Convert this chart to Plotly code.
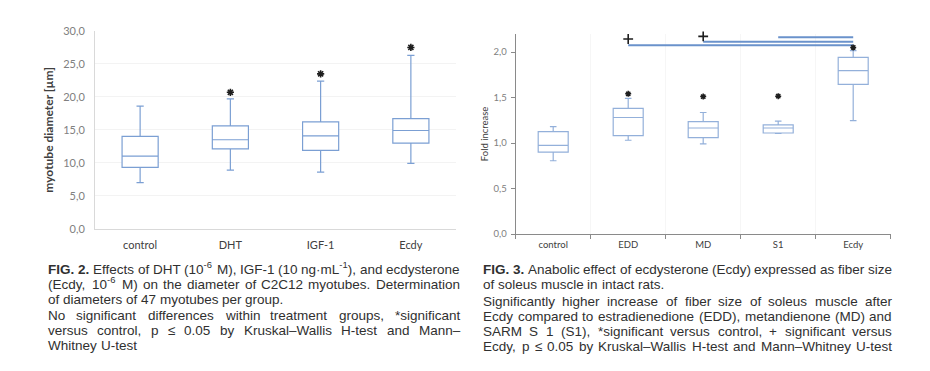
import re
import plotly.graph_objects as go

W, H = 930, 371

# ---------------- data: FIG. 2 (left) ----------------
fig2_groups = ["control", "DHT", "IGF-1", "Ecdy"]
fig2_low = [7.0, 8.9, 8.6, 9.9]
fig2_q1 = [9.3, 12.1, 11.9, 13.0]
fig2_median = [11.0, 13.5, 14.1, 14.9]
fig2_q3 = [14.0, 15.6, 16.2, 16.7]
fig2_high = [18.6, 19.7, 22.4, 26.3]
fig2_star_groups = ["DHT", "IGF-1", "Ecdy"]
fig2_star_y = [20.7, 23.5, 27.5]
fig2_yticks = [0, 5, 10, 15, 20, 25, 30]
fig2_ytitle = "myotube diameter [µm]"

# ---------------- data: FIG. 3 (right) ----------------
fig3_groups = ["control", "EDD", "MD", "S1", "Ecdy"]
fig3_low = [0.805, 1.03, 0.99, 1.105, 1.245]
fig3_q1 = [0.90, 1.08, 1.06, 1.11, 1.645]
fig3_median = [0.975, 1.28, 1.165, 1.165, 1.795]
fig3_q3 = [1.125, 1.38, 1.235, 1.20, 1.94]
fig3_high = [1.18, 1.49, 1.335, 1.24, 2.015]
fig3_star_groups = ["EDD", "MD", "S1", "Ecdy"]
fig3_star_y = [1.54, 1.51, 1.515, 2.05]
fig3_plus_groups = ["EDD", "MD", "S1"]
fig3_plus_y = [2.143, 2.172, 2.205]
fig3_bracket_y = [2.073, 2.113, 2.163]   # line from each group to Ecdy
fig3_yticks = [0, 0.5, 1.0, 1.5, 2.0]
fig3_ytitle = "Fold increase"

# ---------------- captions ----------------
caption2 = [
    ("<b>FIG.\u00a02.</b> Effects of DHT (10<sup>-6</sup> M), IGF-1 (10 ng·mL<sup>-1</sup>), and ecdysterone", True),
    ("(Ecdy, 10<sup>-6</sup> M) on the diameter of C2C12 myotubes. Determination", True),
    ("of diameters of 47 myotubes per group.", False),
    ("No significant differences within treatment groups, *significant", True),
    ("versus control, p ≤ 0.05 by Kruskal–Wallis H-test and Mann–", True),
    ("Whitney U-test", False),
]
caption3 = [
    ("<b>FIG.\u00a03.</b> Anabolic effect of ecdysterone (Ecdy) expressed as fiber size", True),
    ("of soleus muscle in intact rats.", False),
    ("Significantly higher increase of fiber size of soleus muscle after", True),
    ("Ecdy compared to estradienedione (EDD), metandienone (MD) and", True),
    ("SARM S 1 (S1), *significant versus control, + significant versus", True),
    ("Ecdy, p ≤ 0.05 by Kruskal–Wallis H-test and Mann–Whitney U-test", True),
]

# ---------------- helpers ----------------
def px_x(p):
    return p / W

def px_y(p):
    return 1 - p / H

BOX2 = "#7b9fd3"
BOX3 = "#93b0da"
MARK = "#1e1e1e"

fig = go.Figure()

fig.add_trace(go.Box(
    x=fig2_groups, q1=fig2_q1, median=fig2_median, q3=fig2_q3,
    lowerfence=fig2_low, upperfence=fig2_high,
    width=0.4, whiskerwidth=0.2, fillcolor="white",
    line=dict(color=BOX2, width=1.2), boxpoints=False,
    showlegend=False, hoverinfo="skip", xaxis="x", yaxis="y"))
fig.add_trace(go.Scatter(
    x=fig2_star_groups, y=fig2_star_y, mode="markers",
    marker=dict(symbol="asterisk-open", size=6, color=MARK, line=dict(color=MARK, width=1.6)),
    showlegend=False, hoverinfo="skip", xaxis="x", yaxis="y", cliponaxis=False))

fig.add_trace(go.Box(
    x=fig3_groups, q1=fig3_q1, median=fig3_median, q3=fig3_q3,
    lowerfence=fig3_low, upperfence=fig3_high,
    width=0.4, whiskerwidth=0.22, fillcolor="white",
    line=dict(color=BOX3, width=1.2), boxpoints=False,
    showlegend=False, hoverinfo="skip", xaxis="x2", yaxis="y2"))
for g, yb in zip(fig3_plus_groups, fig3_bracket_y):
    fig.add_trace(go.Scatter(
        x=[g, fig3_groups[-1]], y=[yb, yb], mode="lines",
        line=dict(color="#6a92cb", width=2),
        showlegend=False, hoverinfo="skip", xaxis="x2", yaxis="y2", cliponaxis=False))
fig.add_trace(go.Scatter(
    x=fig3_star_groups, y=fig3_star_y, mode="markers",
    marker=dict(symbol="asterisk-open", size=5, color=MARK, line=dict(color=MARK, width=1.5)),
    showlegend=False, hoverinfo="skip", xaxis="x2", yaxis="y2", cliponaxis=False))
fig.add_trace(go.Scatter(
    x=fig3_plus_groups, y=fig3_plus_y, mode="markers",
    marker=dict(symbol="cross-thin-open", size=7, color=MARK, line=dict(color=MARK, width=1.6)),
    showlegend=False, hoverinfo="skip", xaxis="x2", yaxis="y2", cliponaxis=False))

CHART_FONT = "Lato, Open Sans, sans-serif"

fig.update_layout(
    width=W, height=H, margin=dict(l=0, r=0, t=0, b=0, autoexpand=False),
    paper_bgcolor="white", plot_bgcolor="white",
    separators=", ",
    font=dict(family=CHART_FONT),
    xaxis=dict(domain=[px_x(95), px_x(456)], range=[-0.5, 3.5], automargin=False,
               showline=True, linecolor="#d9d9d9", linewidth=1,
               showgrid=False, zeroline=False, ticks="",
               tickfont=dict(size=11, color="#404040"), ticklabelstandoff=6,
               fixedrange=True),
    yaxis=dict(domain=[px_y(228.7), px_y(31)], range=[0, 30], automargin=False,
               tickvals=fig2_yticks, tickformat=".1f",
               showline=True, linecolor="#d9d9d9", linewidth=1,
               showgrid=True, gridcolor="#f3f3f3", zeroline=False, ticks="",
               tickfont=dict(size=11, color="#808080"), ticklabelstandoff=7,
               title=dict(text=fig2_ytitle, standoff=6,
                          font=dict(size=12, color="#404040", weight="bold")),
               fixedrange=True),
    xaxis2=dict(domain=[px_x(515.7), px_x(890.7)], range=[-0.5, 4.5],
                anchor="y2", automargin=False,
                showline=True, linecolor="#8a8a8a", linewidth=1,
                ticks="outside", tickson="boundaries", ticklen=4, tickcolor="#8a8a8a",
                showgrid=True, gridcolor="#f6f6f6", zeroline=False,
                tickfont=dict(size=9.5, color="#404040"), ticklabelstandoff=2,
                fixedrange=True),
    yaxis2=dict(domain=[px_y(234), px_y(33.8)], range=[0, 2.2], anchor="x2",
                automargin=False,
                tickvals=fig3_yticks, tickformat=".1f",
                showline=True, linecolor="#8a8a8a", linewidth=1,
                ticks="outside", ticklen=4, tickcolor="#8a8a8a",
                showgrid=False, zeroline=False,
                tickfont=dict(size=9.5, color="#808080"), ticklabelstandoff=2,
                title=dict(text=fig3_ytitle, standoff=3,
                           font=dict(size=9.5, color="#404040")),
                fixedrange=True),
)

# ---------------- justified captions ----------------
# Liberation Sans (Arial metrics) advance widths per 1000 em
AW = {' ': 278, '\u00a0': 278, '.': 278, ',': 278, '(': 333, ')': 333, '-': 333,
      '–': 556, '*': 389, '+': 584, '≤': 549, '·': 278, ':': 278, '[': 278, ']': 278}
AW.update({c: 556 for c in "0123456789"})
AW.update(dict(zip("abcdefghijklmnopqrstuvwxyz",
                   [556, 556, 500, 556, 556, 278, 556, 556, 222, 222, 500, 222, 833,
                    556, 556, 556, 556, 333, 500, 278, 556, 500, 722, 500, 500, 500])))
AW.update(dict(zip("ABCDEFGHIJKLMNOPQRSTUVWXYZ",
                   [667, 667, 722, 722, 667, 611, 778, 722, 278, 500, 667, 556, 833,
                    722, 778, 667, 778, 722, 667, 611, 722, 667, 944, 667, 667, 611])))

CAP_FS = 13.5
CAP_FONT = "Liberation Sans, Arial, sans-serif"
CAP_COLOR = "#303030"
HALF_LINE = 9.0  # px from text middle to bottom of its line box


def text_width(html, size):
    total, scale = 0.0, 1.0
    extra = 0.0
    for tok in re.split(r"(<[^>]+>)", html):
        if tok.startswith("<"):
            if tok == "<sup>":
                scale = 0.7
                extra = 1.5
            elif tok == "</sup>":
                scale = 1.0
            continue
        for ch in tok:
            total += AW.get(ch, 556) * scale
    return total * size / 1000.0 + extra


def add_caption(lines, x0, x1, ys):
    for (html, justify), ymid in zip(lines, ys):
        words = html.split(" ")
        widths = [text_width(w, CAP_FS) for w in words]
        if justify and len(words) > 1:
            gap = (x1 - x0 - sum(widths)) / (len(words) - 1)
        else:
            gap = AW[" "] * CAP_FS / 1000.0
        x = x0
        for w, wd in zip(words, widths):
            fig.add_annotation(text=w, x=px_x(x), y=px_y(ymid + HALF_LINE),
                               xref="paper", yref="paper",
                               xanchor="left", yanchor="bottom", showarrow=False,
                               borderpad=0, font=dict(family=CAP_FONT, size=CAP_FS, color=CAP_COLOR))
            x += wd + gap


add_caption(caption2, 47, 459, [269, 284, 299, 315, 330, 345])
add_caption(caption3, 482, 891, [269, 284, 300.5, 316, 331, 346])

fig.write_html("out.html", config={"displayModeBar": False},
               post_script="document.body.style.margin='0';")
